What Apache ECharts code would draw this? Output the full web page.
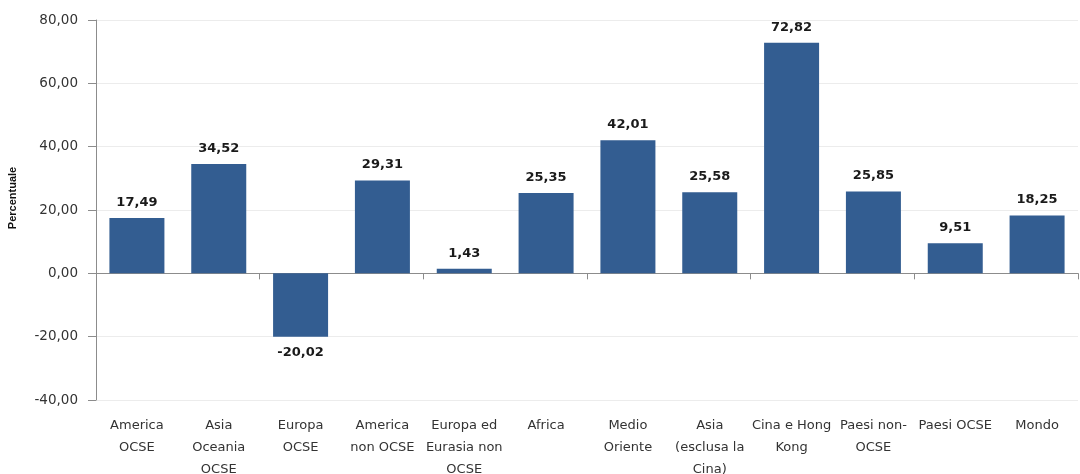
<!DOCTYPE html>
<html><head><meta charset="utf-8">
<script src="https://cdn.jsdelivr.net/npm/echarts@6/dist/echarts.min.js"></script>
<style>html,body{margin:0;padding:0;background:#fff}#c{width:1080px;height:474px}</style>
</head><body><div id="c"></div>
<script>
const categories = ["America\nOCSE","Asia\nOceania\nOCSE","Europa\nOCSE","America\nnon OCSE","Europa ed\nEurasia non\nOCSE","Africa","Medio\nOriente","Asia\n(esclusa la\nCina)","Cina e Hong\nKong","Paesi non-\nOCSE","Paesi OCSE","Mondo"];
const values = [17.49,34.52,-20.02,29.31,1.43,25.35,42.01,25.58,72.82,25.85,9.51,18.25];
const yTicks = {min:-40, max:80, interval:20};
const fmt = v => v.toFixed(2).replace('.', ',');
const font = "'DejaVu Sans', sans-serif";
const chart = echarts.init(document.getElementById('c'), null, {renderer:'canvas'});
chart.setOption({
  animation:false,
  grid:{left:96, right:2, top:20, bottom:74, containLabel:false, outerBoundsMode:'none'},
  xAxis:[{
    type:'category', data:categories, position:'bottom',
    axisLine:{onZero:true, lineStyle:{color:'#8c8c8c'}},
    axisTick:{show:true, length:6, lineStyle:{color:'#8c8c8c'}},
    axisLabel:{show:false}, splitLine:{show:false}
  },{
    type:'category', data:categories, position:'bottom',
    axisLine:{show:false}, axisTick:{show:false},
    axisLabel:{show:true, interval:0, color:'#333', fontSize:13, fontFamily:font, lineHeight:22, margin:15}
  }],
  yAxis:{
    type:'value', min:yTicks.min, max:yTicks.max, interval:yTicks.interval,
    name:'Percentuale', nameLocation:'middle', nameGap:78, nameRotate:90,
    nameTextStyle:{fontWeight:'bold', fontSize:11, color:'#111', fontFamily:"'Liberation Sans', Arial, sans-serif", padding:[0,0,0,24]},
    axisLine:{show:true, lineStyle:{color:'#8c8c8c'}},
    axisTick:{show:true, length:8, lineStyle:{color:'#8c8c8c'}},
    axisLabel:{color:'#333', fontSize:13.5, fontFamily:font, margin:18, formatter:v=>fmt(v)},
    splitLine:{show:true, lineStyle:{color:'#ececec'}}
  },
  series:[{
    type:'bar', xAxisIndex:0, barWidth:55,
    data:values.map(v=>v<0?{value:v,label:{position:'bottom'}}:v),
    itemStyle:{color:'#335d91'},
    label:{show:true, position:'top', distance:9, formatter:p=>fmt(p.value), fontWeight:'bold', fontSize:13, color:'#1a1a1a', fontFamily:font}
  }]
});
</script></body></html>
